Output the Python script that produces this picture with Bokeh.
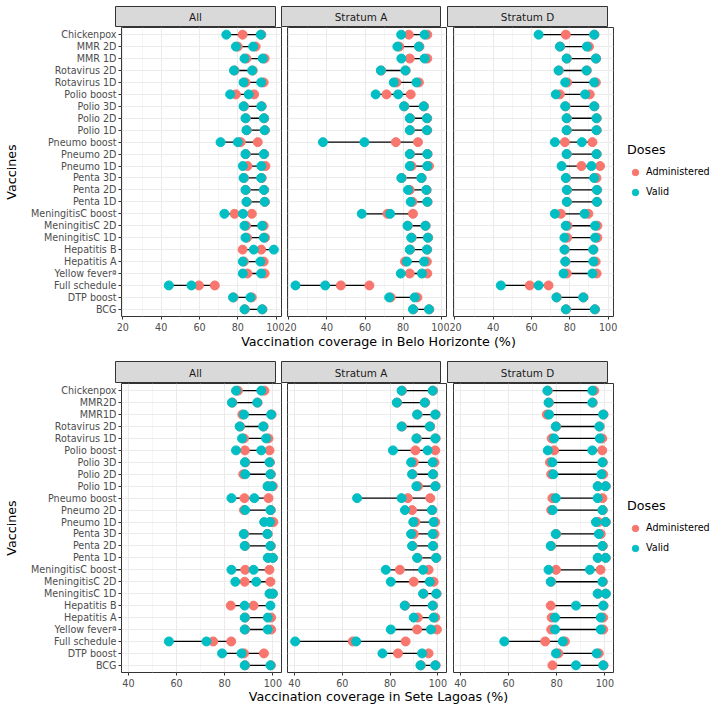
from bokeh.plotting import figure
from bokeh.layouts import column, row
from bokeh.models import FactorRange, Range1d, FixedTicker, Legend, LegendItem, ColumnDataSource
from bokeh.embed import file_html
from bokeh.resources import INLINE
from bokeh.core.properties import value

FONT = "DejaVu Sans"
ADMIN_COLOR = "#F8766D"
VALID_COLOR = "#00BFC4"
SMALL = "9.6px"
STRIP = "10.4px"
LARGE = "12.7px"

FACETS = ["All", "Stratum A", "Stratum D"]

VACCINES_BH = ["Chickenpox", "MMR 2D", "MMR 1D", "Rotavirus 2D", "Rotavirus 1D", "Polio boost",
               "Polio 3D", "Polio 2D", "Polio 1D", "Pneumo boost", "Pneumo 2D", "Pneumo 1D",
               "Penta 3D", "Penta 2D", "Penta 1D", "MeningitisC boost", "MeningitisC 2D",
               "MeningitisC 1D", "Hepatitis B", "Hepatitis A", "Yellow feverª", "Full schedule",
               "DTP boost", "BCG"]
VACCINES_SL = ["Chickenpox", "MMR2D", "MMR1D", "Rotavirus 2D", "Rotavirus 1D", "Polio boost",
               "Polio 3D", "Polio 2D", "Polio 1D", "Pneumo boost", "Pneumo 2D", "Pneumo 1D",
               "Penta 3D", "Penta 2D", "Penta 1D", "MeningitisC boost", "MeningitisC 2D",
               "MeningitisC 1D", "Hepatitis B", "Hepatitis A", "Yellow feverª", "Full schedule",
               "DTP boost", "BCG"]

BH_TICKS = [20, 40, 60, 80, 100]
BH_MINOR = [30, 50, 70, 90]
SL_TICKS = [40, 60, 80, 100]
SL_MINOR = [50, 70, 90]

# ---------------- Belo Horizonte ----------------
BH_ALL_VALID = [(74, 92), (79, 88), (83.5, 93), (78, 87.5), (83, 92.2), (76, 85.7), (83, 92.3),
                (84, 93.6), (84.5, 94), (71, 80), (84, 93.6), (82.6, 92.3), (83, 92.2), (84, 93.6),
                (84.5, 94), (73, 82.7), (83.5, 92.7), (84, 93.6), (88.3, 98.8), (82.6, 91.8),
                (82.6, 92.2), (44, 55.8), (77.5, 86.6), (83.5, 92.7)]
BH_ALL_ADMIN = [(82.5, 92.3), (80, 89.3), (84.5, 94), (78.3, 87.8), (84, 93.5), (79, 88.5), (83.3, 92.5),
                (84.2, 93.8), (84.7, 94.2), (81.5, 90.4), (84.2, 93.8), (85, 94.4), (83.3, 92.5), (84.2, 93.8),
                (84.7, 94.2), (78.3, 87.3), (84.3, 93.5), (84.8, 94.2), (82.5, 92.2), (83.2, 93.5),
                (85, 94), (59.7, 68), (77.8, 87.3), (83.7, 92.9)]

BH_A_VALID = [(79, 91.3), (77, 88.3), (79.1, 91.3), (68.3, 81.2), (75.1, 87), (65.6, 77.4), (80.5, 90.8),
              (83.5, 92.5), (83.5, 92.5), (37.9, 59.7), (83.5, 92.7), (83.5, 92.7), (79.1, 89.6),
              (82.6, 92.2), (84, 92.7), (58.3, 73.2), (82.3, 91.7), (84.3, 93), (83.5, 92.5), (82, 91),
              (78.8, 89.9), (23.5, 39.1), (72.7, 86.1), (85.2, 93.6)]
BH_A_ADMIN = [(83, 92.7), (78, 88.6), (83.5, 92.7), (68.5, 81.4), (76.5, 88.3), (71.3, 84), (80.7, 91),
              (83.7, 92.7), (83.7, 92.7), (76.2, 87.8), (83.7, 92.9), (84.4, 93.6), (79.3, 89.8),
              (83.5, 92.4), (84.9, 92.9), (71.8, 85.2), (82.5, 91.9), (84.5, 93.2), (83.7, 92.7), (81, 92.5),
              (83.5, 92.7), (47.3, 62.3), (73.5, 87.5), (85.4, 93.8)]

BH_D_VALID = [(63.7, 92.7), (74.8, 88.9), (78.3, 93.6), (74.1, 88.7), (77.6, 92.7), (72.7, 88), (77.6, 92.7),
              (78.3, 93.9), (78.3, 93.9), (72.2, 86.3), (78.3, 93.9), (75.7, 91.3), (77.9, 92.7),
              (78.4, 94.1), (78.4, 94.1), (72.2, 87.7), (77.9, 93.2), (77.2, 93.2), (77.2, 92.2),
              (77.6, 92.3), (76.7, 91.8), (44, 63.7), (73, 87), (77.9, 93)]
BH_D_ADMIN = [(77.9, 92.9), (75, 90), (78.5, 93.8), (74.3, 88.9), (78.6, 93.6), (74.8, 90.4), (77.8, 92.9),
              (78.5, 94.1), (78.5, 94.1), (77.4, 91.8), (78.5, 94.1), (86.1, 95.8), (78.1, 93.9),
              (78.6, 94.3), (78.6, 94.3), (75.3, 89.7), (78.8, 94.4), (78.6, 94.4), (77.4, 92.4),
              (77.8, 93.5), (78.4, 94), (59.1, 68.9), (73.2, 87.2), (78.1, 93.2)]

# ---------------- Sete Lagoas ----------------
SL_ALL_VALID = [(84.7, 95.2), (83, 93.5), (88, 99.3), (86.2, 96), (87.2, 97.2), (84.7, 95.2), (88.4, 98.6),
                (88.5, 99), (97.8, 99.6), (82.8, 92.3), (88.5, 99), (96.4, 98.8), (87.9, 97.7), (88.3, 99),
                (97.9, 100), (82.8, 92), (84.4, 93.1), (98.6, 100), (88.3, 99), (88.3, 97.9), (88.3, 97.9),
                (56.8, 72.4), (78.9, 87), (88.3, 99)]
SL_ALL_ADMIN = [(85.5, 96.5), (83.2, 93.7), (87.3, 99.5), (86.4, 96.2), (88, 98.2), (88.4, 98.6), (88.6, 98.8),
                (87.7, 99.2), (98, 100), (88.2, 98.2), (88, 99.2), (99, 100.2), (88.1, 97.9), (88.5, 99.2),
                (98.1, 100), (88.5, 98.6), (88.3, 99), (98.8, 100), (82.5, 92), (88.5, 99.3), (88.5, 99.3),
                (75.2, 82.7), (88, 96.3), (88.5, 99.2)]

SL_A_VALID = [(84.8, 97.8), (82.8, 94.5), (91.3, 98.9), (84.8, 96.6), (91, 98.9), (81.2, 95.7), (88.8, 97.8),
              (89.2, 97.9), (91, 98.9), (66.2, 84.8), (86.2, 97.5), (89.7, 98.2), (88.8, 97.8), (89.2, 97.9),
              (91.3, 99.2), (78.2, 93.8), (80.3, 96.6), (93.8, 99.3), (86.1, 97.8), (89.9, 98.2),
              (80.3, 97.1), (40.3, 65.8), (76.8, 93.4), (92.7, 98.9)]
SL_A_ADMIN = [(85, 98), (83, 94.7), (91.5, 99.1), (85, 96.8), (91.2, 99.1), (90.6, 98.9), (89.9, 98.6),
              (89.4, 98.1), (91.7, 99.1), (87.4, 96.8), (89.2, 97.7), (90.6, 98.9), (89.9, 98.6), (89.4, 98.1),
              (91.5, 99.4), (84.1, 96.1), (89.9, 98.2), (94, 99.5), (86.3, 98), (91.6, 98.9),
              (91.3, 99.6), (64.4, 86.5), (83.3, 96.1), (92.9, 99.1)]

SL_D_VALID = [(76.1, 94.8), (76.6, 94.8), (76.8, 99.3), (79.6, 97.7), (78.9, 97.9), (76.3, 94.8), (78.2, 99),
              (78.6, 98.6), (97, 100.3), (79.6, 97), (78.3, 99), (96.3, 100.3), (79.6, 97.5), (77.5, 99),
              (97, 100.3), (76.6, 93.8), (77.5, 99), (97, 100.4), (88, 99.3), (79.3, 98.3), (79.3, 98.3),
              (58.2, 82.5), (79.7, 96.6), (88, 99.3)]
SL_D_ADMIN = [(76.3, 95.6), (76.8, 95), (75.9, 99.5), (79.8, 97.9), (77.9, 98.9), (78.9, 98.9), (77.2, 99.2),
              (77.7, 99.3), (97.2, 100.4), (78.2, 99), (77.7, 99.2), (97.3, 100.4), (79.8, 98.3), (77.7, 99.2),
              (97.2, 100.4), (79.7, 98.2), (77.7, 99.2), (97.2, 100.4), (77.5, 99.5), (77.9, 99.3),
              (77.7, 99.3), (75.2, 83.4), (80.7, 97.5), (78.2, 99.5)]

BH_XRANGE = (19.3, 102.8)
SL_XRANGE = (37.1, 103.6)

# layout (px)
LEFTS = [115, 3, 4]
RIGHTS = [3, 3, 100]
FWIDTHS = [160, 159, 160]
FHEIGHT = 289


def facet_fig(vaccines, valid, admin, xr, ticks, minor, idx, with_legend):
    yr = FactorRange(factors=vaccines[::-1], range_padding=0.1, range_padding_units="absolute")
    p = figure(x_range=Range1d(*xr), y_range=yr, frame_width=FWIDTHS[idx], frame_height=FHEIGHT,
               min_border_left=LEFTS[idx], min_border_right=RIGHTS[idx], min_border_top=0,
               min_border_bottom=16, output_backend="svg", toolbar_location=None)
    p.outline_line_color = "#333333"
    p.outline_line_width = 1
    p.background_fill_color = "white"
    p.xaxis.ticker = FixedTicker(ticks=ticks, minor_ticks=minor)
    p.xgrid.grid_line_color = "#EBEBEB"
    p.xgrid.grid_line_width = 1.1
    p.xgrid.minor_grid_line_color = "#F2F2F2"
    p.xgrid.minor_grid_line_width = 0.8
    p.ygrid.grid_line_color = "#EBEBEB"
    p.ygrid.grid_line_width = 1.1
    for ax in (p.xaxis, p.yaxis):
        ax.axis_line_color = None
        ax.major_tick_line_color = "#333333"
        ax.major_tick_out = 3
        ax.major_tick_in = 0
        ax.minor_tick_line_color = None
        ax.major_label_standoff = 2
        ax.major_label_text_font = FONT
        ax.major_label_text_font_size = SMALL
        ax.major_label_text_color = "#4D4D4D"
    if idx == 0:
        p.yaxis.axis_label = "Vaccines"
        p.yaxis.axis_label_text_font = FONT
        p.yaxis.axis_label_text_font_size = LARGE
        p.yaxis.axis_label_text_font_style = "normal"
        p.yaxis.axis_label_text_color = "black"
        p.yaxis.axis_label_standoff = 9
    else:
        p.yaxis.visible = False

    lo = [min(list(v) + list(a)) for v, a in zip(valid, admin)]
    hi = [max(list(v) + list(a)) for v, a in zip(valid, admin)]
    seg = ColumnDataSource(dict(y=vaccines, x0=lo, x1=hi))
    p.segment(x0="x0", y0="y", x1="x1", y1="y", source=seg, line_color="black", line_width=1.3)

    ya = [name for name, pair in zip(vaccines, admin) for _ in pair]
    xa = [x for pair in admin for x in pair]
    yv = [name for name, pair in zip(vaccines, valid) for _ in pair]
    xv = [x for pair in valid for x in pair]
    ra = p.scatter(x=xa, y=ya, size=9, marker="circle", fill_color=ADMIN_COLOR, line_color=ADMIN_COLOR)
    rv = p.scatter(x=xv, y=yv, size=9, marker="circle", fill_color=VALID_COLOR, line_color=VALID_COLOR)

    if with_legend:
        legend = Legend(items=[LegendItem(label="Administered", renderers=[ra]),
                               LegendItem(label="Valid", renderers=[rv])],
                        title="Doses", location="center_left", orientation="vertical")
        legend.title_text_font = FONT
        legend.title_text_font_size = LARGE
        legend.title_text_font_style = "normal"
        legend.title_text_color = "black"
        legend.title_standoff = 5
        legend.label_text_font = FONT
        legend.label_text_font_size = SMALL
        legend.label_text_color = "black"
        legend.glyph_width = 16
        legend.glyph_height = 20
        legend.label_height = 20
        legend.label_standoff = 3
        legend.spacing = 0
        legend.padding = 0
        legend.margin = 14
        legend.border_line_color = None
        legend.background_fill_alpha = 0
        p.add_layout(legend, "right")
    return p


def strip_fig(label, idx, h, top):
    s = figure(x_range=Range1d(0, 1), y_range=Range1d(0, 1), frame_width=FWIDTHS[idx], frame_height=h,
               min_border_left=LEFTS[idx], min_border_right=RIGHTS[idx], min_border_top=top,
               min_border_bottom=0, output_backend="svg", toolbar_location=None)
    s.axis.visible = False
    s.grid.visible = False
    s.background_fill_color = "#D9D9D9"
    s.outline_line_color = "#333333"
    s.outline_line_width = 1
    s.text(x=[0.5], y=[0.5], text=[label], text_align="center", text_baseline="middle",
           text_font=value(FONT), text_font_size=STRIP, text_color="#1A1A1A")
    return s


def title_fig(label, h, center_from_top):
    t = figure(x_range=Range1d(0, 1), y_range=Range1d(0, h), frame_width=526, frame_height=h,
               min_border_left=115, min_border_right=0, min_border_top=0, min_border_bottom=0,
               output_backend="svg", toolbar_location=None)
    t.axis.visible = False
    t.grid.visible = False
    t.outline_line_color = None
    t.text(x=[0.5], y=[h - center_from_top], text=[label], text_align="center", text_baseline="middle",
           text_font=value(FONT), text_font_size=LARGE, text_color="black")
    return t


bh_data = [(BH_ALL_VALID, BH_ALL_ADMIN), (BH_A_VALID, BH_A_ADMIN), (BH_D_VALID, BH_D_ADMIN)]
sl_data = [(SL_ALL_VALID, SL_ALL_ADMIN), (SL_A_VALID, SL_A_ADMIN), (SL_D_VALID, SL_D_ADMIN)]

top_strips = row([strip_fig(f, i, 21, 6) for i, f in enumerate(FACETS)])
top_facets = row([facet_fig(VACCINES_BH, v, a, BH_XRANGE, BH_TICKS, BH_MINOR, i, i == 2)
                  for i, (v, a) in enumerate(bh_data)])
top_title = title_fig("Vaccination coverage in Belo Horizonte (%)", 28, 8)

bot_strips = row([strip_fig(f, i, 22, 0) for i, f in enumerate(FACETS)])
bot_facets = row([facet_fig(VACCINES_SL, v, a, SL_XRANGE, SL_TICKS, SL_MINOR, i, i == 2)
                  for i, (v, a) in enumerate(sl_data)])
bot_title = title_fig("Vaccination coverage in Sete Lagoas (%)", 18, 7)

layout = column(top_strips, top_facets, top_title, bot_strips, bot_facets, bot_title)

open("out.html", "w").write(file_html(layout, INLINE))
